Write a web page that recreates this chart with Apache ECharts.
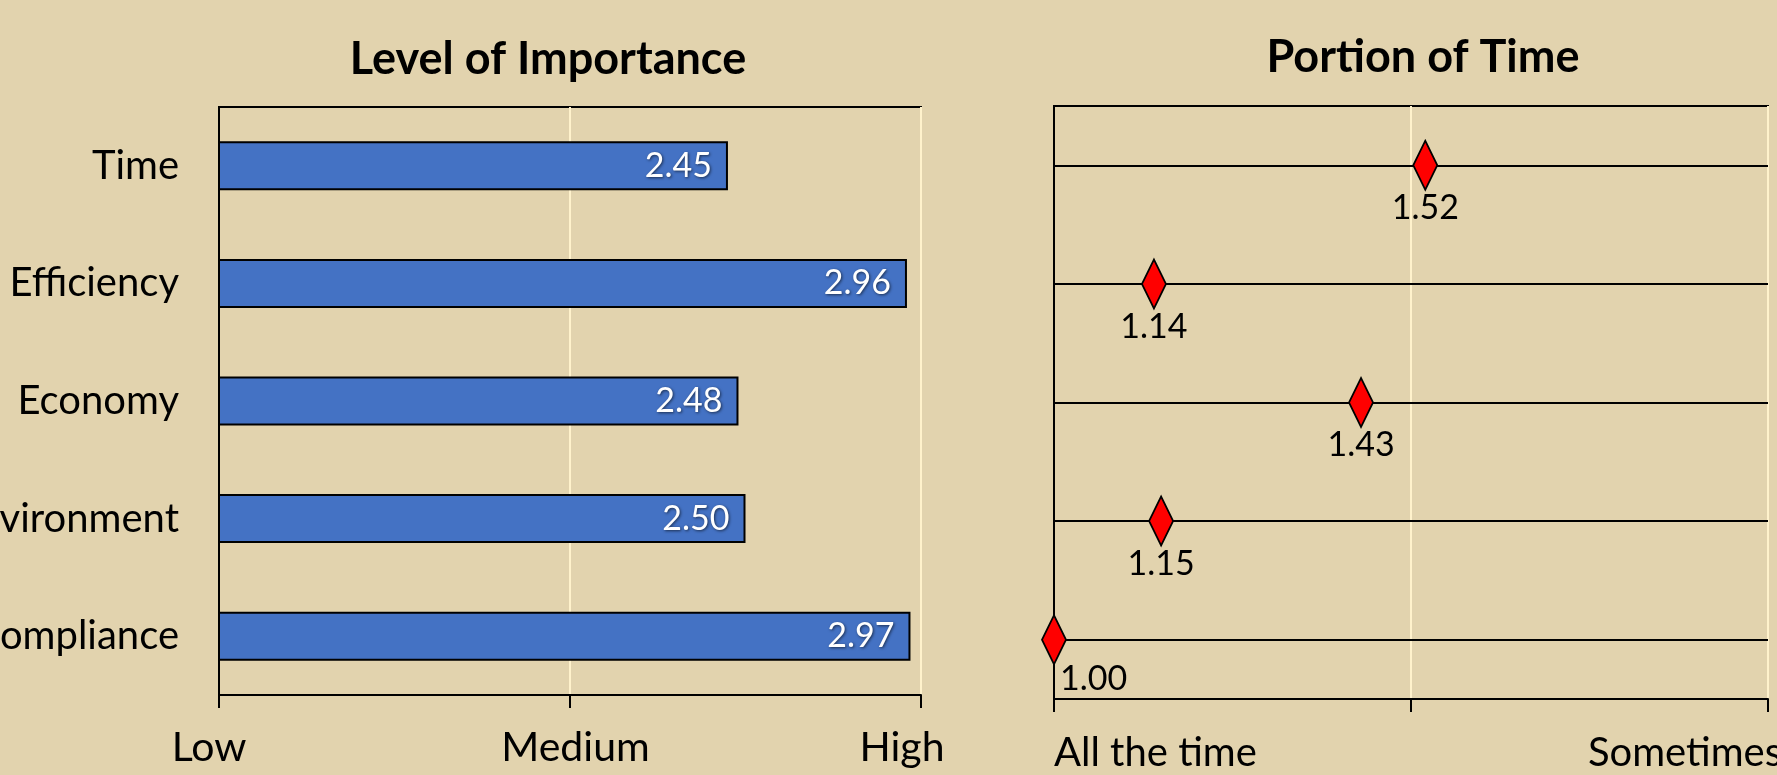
<!DOCTYPE html>
<html>
<head>
<meta charset="utf-8">
<script src="https://cdn.jsdelivr.net/npm/echarts@6/dist/echarts.min.js"></script>
<style>
  html, body { margin: 0; padding: 0; background: #E2D3AE; }
  #chart { width: 1777px; height: 775px; }
</style>
</head>
<body>
<div id="chart"></div>
<script>
// data
var categories = ['Time', 'Efficiency', 'Economy', 'Environment', 'Compliance'];
var importance = [2.45, 2.96, 2.48, 2.50, 2.97];
var portionOfTime = [1.52, 1.14, 1.43, 1.15, 1.00];
var importanceTicks = ['Low', 'Medium', 'High'];      // values 1, 2, 3
var timeTicks = ['All the time', '', 'Sometimes'];    // values 1, 1.5, 2

var FONT = 'Lato, sans-serif';

var chart = echarts.init(document.getElementById('chart'));

//散点数据，最小值的标签放在右下
var scatterData = portionOfTime.map(function (v, i) {
    var item = { value: [v, categories[i]] };
    if (v === 1) {
        item.label = { align: 'left', offset: [6, -4] };
    }
    return item;
});

// 轴标签的微调（和原图的对齐方式一致）
var labelStyle = { fontFamily: FONT, fontSize: 41, color: '#000' };
var richLow = Object.assign({ padding: [0, 20, 0, 0] }, labelStyle);
var richMid = Object.assign({ padding: [0, 0, 0, 11] }, labelStyle);
var richHigh = Object.assign({ padding: [0, 38, 0, 0] }, labelStyle);
var richAll = Object.assign({ padding: [0, 0, 0, 0] }, labelStyle, { fontSize: 40 });
var richSome = Object.assign({ padding: [0, 166, 0, 0] }, labelStyle, { fontSize: 40 });

chart.setOption({
    backgroundColor: '#E2D3AE',
    animation: false,
    title: [
        {
            text: 'Level of Importance',
            left: 548, top: 37, textAlign: 'center', padding: 0,
            textStyle: { fontFamily: FONT, fontSize: 45, fontWeight: 'bold', color: '#000' }
        },
        {
            text: 'Portion of Time',
            left: 1423, top: 35, textAlign: 'center', padding: 0,
            textStyle: { fontFamily: FONT, fontSize: 45, fontWeight: 'bold', color: '#000' }
        }
    ],
    grid: [
        {
            left: 219, right: 856, top: 107, bottom: 80, outerBoundsMode: 'none',
            show: true, borderColor: '#000', borderWidth: 2
        },
        {
            left: 1054, right: 9, top: 106, bottom: 76, outerBoundsMode: 'none',
            show: true, borderColor: '#000', borderWidth: 2
        }
    ],
    xAxis: [
        {
            gridIndex: 0, type: 'value', min: 1, max: 3, interval: 1,
            axisLine: { show: true, lineStyle: { color: '#000', width: 2 } },
            axisTick: { show: true, length: 13, lineStyle: { color: '#000', width: 2 } },
            splitLine: { show: true, lineStyle: { color: '#FFF2CC', width: 2 } },
            axisLabel: {
                margin: 32, fontFamily: FONT, fontSize: 41, color: '#000',
                rich: { lo: richLow, mid: richMid, hi: richHigh },
                formatter: function (v) {
                    var i = Math.round(v - 1);
                    return '{' + ['lo', 'mid', 'hi'][i] + '|' + importanceTicks[i] + '}';
                }
            }
        },
        {
            gridIndex: 1, type: 'value', min: 1, max: 2, interval: 0.5,
            axisLine: { show: true, lineStyle: { color: '#000', width: 2 } },
            axisTick: { show: true, length: 13, lineStyle: { color: '#000', width: 2 } },
            splitLine: { show: true, lineStyle: { color: '#FFF2CC', width: 2 } },
            axisLabel: {
                margin: 34, fontFamily: FONT, fontSize: 40, color: '#000',
                alignMinLabel: 'left',
                rich: { all: richAll, some: richSome },
                formatter: function (v) {
                    var i = Math.round((v - 1) * 2);
                    if (!timeTicks[i]) return '';
                    return '{' + (i === 0 ? 'all' : 'some') + '|' + timeTicks[i] + '}';
                }
            }
        }
    ],
    yAxis: [
        {
            gridIndex: 0, type: 'category', data: categories, inverse: true,
            axisLine: { show: true, lineStyle: { color: '#000', width: 2 } },
            axisTick: { show: false },
            splitLine: { show: false },
            axisLabel: { interval: 0, margin: 40, fontFamily: FONT, fontSize: 40, color: '#000' }
        },
        {
            gridIndex: 1, type: 'category', data: categories, inverse: true,
            axisLine: { show: true, lineStyle: { color: '#000', width: 2 } },
            axisTick: { show: false },
            splitLine: { show: false },
            axisLabel: { show: false }
        }
    ],
    series: [
        {
            name: 'Level of Importance',
            type: 'bar',
            xAxisIndex: 0, yAxisIndex: 0,
            barWidth: 49,
            data: importance,
            itemStyle: { color: '#4472C4', borderColor: '#000', borderWidth: 2 },
            label: {
                show: true, position: 'insideRight', distance: 16,
                fontFamily: FONT, fontSize: 34, color: '#fff',
                textShadowColor: 'rgba(0,0,0,0.6)', textShadowBlur: 3,
                textShadowOffsetX: 1, textShadowOffsetY: 1,
                formatter: function (p) { return p.value.toFixed(2); }
            }
        },
        {
            name: 'Portion of Time',
            type: 'scatter',
            xAxisIndex: 1, yAxisIndex: 1,
            symbol: 'diamond',
            symbolSize: [24, 49],
            z: 3,
            data: scatterData,
            itemStyle: { color: '#FF0000', borderColor: '#000', borderWidth: 2, opacity: 1 },
            label: {
                show: true, position: 'bottom', distance: 0,
                fontFamily: FONT, fontSize: 34, color: '#000',
                formatter: function (p) { return p.value[0].toFixed(2); }
            },
            markLine: {
                silent: true, z: 1,
                symbol: ['none', 'none'],
                label: { show: false },
                lineStyle: { color: '#000', width: 2, type: 'solid' },
                data: categories.map(function (c) { return { yAxis: c }; })
            }
        }
    ]
});
</script>
</body>
</html>
